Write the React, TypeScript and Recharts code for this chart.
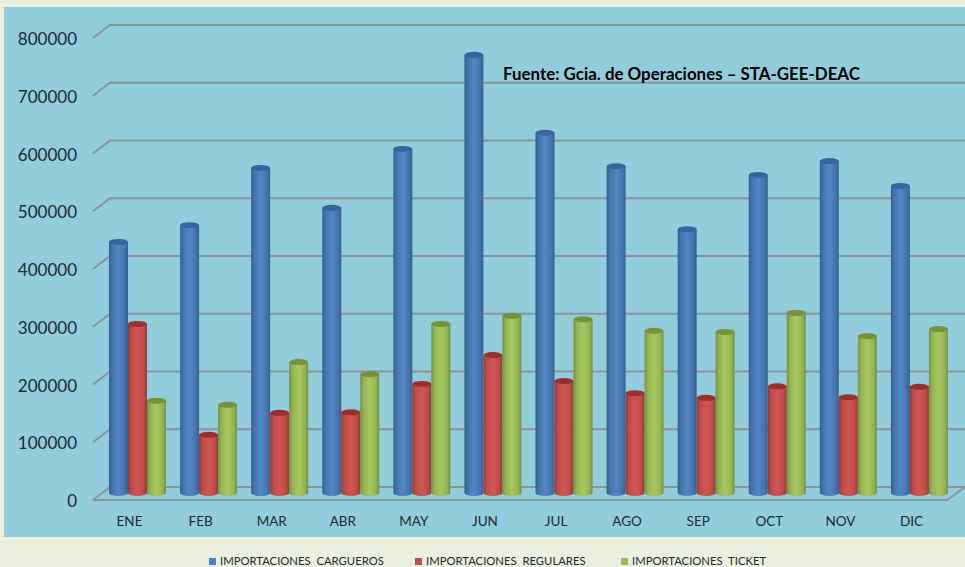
import { Bar, BarChart, CartesianGrid, Legend, XAxis, YAxis } from "recharts"

const months = ["ENE", "FEB", "MAR", "ABR", "MAY", "JUN", "JUL", "AGO", "SEP", "OCT", "NOV", "DIC"]
const cargueros = [440000, 469000, 568000, 499000, 601000, 764000, 629000, 571000, 462000, 556000, 580000, 537000]
const regulares = [298000, 106000, 144000, 145000, 194000, 244000, 199000, 178000, 170000, 190000, 171000, 189000]
const ticket = [165000, 158000, 232000, 211000, 298000, 312000, 306000, 286000, 284000, 317000, 277000, 289000]
const yTicks = [0, 100000, 200000, 300000, 400000, 500000, 600000, 700000, 800000]

const data = months.map((month, i) => ({
  month,
  cargueros: cargueros[i],
  regulares: regulares[i],
  ticket: ticket[i],
}))

const FONT = "Lato, sans-serif"
const GRID = "#8c9499"

// bars stand on a floor between the front edge (y + 4) and the back wall (y - 9)
function GridLine({ y1, index }: any) {
  const isFloor = index === 0 || y1 > 490
  return (
    <g fill="none" stroke={GRID} strokeWidth={2}>
      <polyline points={`93,${y1 + 4} 110,${y1 - 9} 965,${y1 - 9}`} />
      {isFloor && <polyline points={`93,${y1 + 4} 947,${y1 + 4} 965,${y1 - 9}`} />}
    </g>
  )
}

function YTick({ y, payload }: any) {
  return (
    <text x={77} y={y + 11} textAnchor="end" fontFamily={FONT} fontSize={17} fill="#1d2a30">
      {payload.value}
    </text>
  )
}

function XTick({ x, y, payload }: any) {
  return (
    <text x={x - 8} y={y + 22} textAnchor="middle" fontFamily={FONT} fontSize={13.5} fill="#1d2a30">
      {payload.value}
    </text>
  )
}

function Cylinder({ x, y, width, height, fill, lid }: any) {
  const rx = width / 2
  const base = y + height - 3
  const body = `M${x},${y} L${x},${base} A${rx},3 0 0 0 ${x + width},${base} L${x + width},${y} Z`
  return (
    <g>
      <path d={body} fill={fill} />
      <ellipse cx={x + rx} cy={y} rx={rx} ry={3} fill={lid} />
    </g>
  )
}

function Shade({ id, edge, mid, light }: { id: string; edge: string; mid: string; light: string }) {
  return (
    <linearGradient id={id} x1="0" y1="0" x2="1" y2="0">
      <stop offset="0%" stopColor={edge} />
      <stop offset="18%" stopColor={mid} />
      <stop offset="50%" stopColor={light} />
      <stop offset="82%" stopColor={mid} />
      <stop offset="100%" stopColor={edge} />
    </linearGradient>
  )
}

const legendColors: Record<string, string> = {
  cargueros: "#4F81BD",
  regulares: "#C0504D",
  ticket: "#9BBB59",
}
const legendLeft: Record<string, number> = { cargueros: 209, regulares: 415, ticket: 621 }

function LegendRow({ payload }: any) {
  return (
    <div style={{ position: "relative", height: 41 }}>
      {(payload ?? []).map((item: any) => (
        <div
          key={item.dataKey}
          style={{
            position: "absolute",
            left: legendLeft[item.dataKey],
            top: 28,
            display: "flex",
            alignItems: "center",
            fontFamily: FONT,
            fontSize: 11.3,
            color: "#1d2a30",
            whiteSpace: "pre",
            lineHeight: "14px",
          }}
        >
          <span style={{ width: 7, height: 7, marginRight: 4, background: legendColors[item.dataKey] }} />
          {item.value}
        </div>
      ))}
    </div>
  )
}

export default function App() {
  return (
    <div style={{ position: "absolute", left: 0, top: 0, width: 965, height: 567, background: "#EBEFDF", overflow: "hidden" }}>
      <div style={{ position: "absolute", left: 4, top: 7, width: 961, height: 530, background: "#92CDDC" }} />
      <div style={{ position: "absolute", left: 0, top: 0 }}>
        <BarChart
          width={965}
          height={567}
          data={data}
          margin={{ top: 34, right: 10, bottom: 0, left: 0 }}
          barSize={19}
          barGap={0}
        >
          <defs>
            <Shade id="blueCyl" edge="#35608f" mid="#4674ad" light="#5386c6" />
            <Shade id="redCyl" edge="#8f3b39" mid="#bd4c49" light="#d05653" />
            <Shade id="greenCyl" edge="#74903f" mid="#95b453" light="#a6c85f" />
          </defs>
          <CartesianGrid vertical={false} horizontal={(props: any) => <GridLine key={props.key} {...props} />} />
          <XAxis dataKey="month" height={30} axisLine={false} tickLine={false} interval={0} tick={<XTick />} />
          <YAxis width={102} domain={[0, 800000]} ticks={yTicks} axisLine={false} tickLine={false} tick={<YTick />} />
          <Legend height={41} verticalAlign="bottom" content={<LegendRow />} />
          <Bar
            dataKey="cargueros"
            name="IMPORTACIONES  CARGUEROS"
            fill="url(#blueCyl)"
            isAnimationActive={false}
            shape={(p: any) => <Cylinder {...p} lid="#3a659c" />}
          />
          <Bar
            dataKey="regulares"
            name="IMPORTACIONES  REGULARES"
            fill="url(#redCyl)"
            isAnimationActive={false}
            shape={(p: any) => <Cylinder {...p} lid="#97312f" />}
          />
          <Bar
            dataKey="ticket"
            name="IMPORTACIONES  TICKET"
            fill="url(#greenCyl)"
            isAnimationActive={false}
            shape={(p: any) => <Cylinder {...p} lid="#76923c" />}
          />
        </BarChart>
      </div>
      <div
        style={{
          position: "absolute",
          left: 503,
          top: 63,
          fontFamily: FONT,
          fontWeight: 700,
          fontSize: 16.9,
          color: "#000",
          whiteSpace: "pre",
        }}
      >
        Fuente: Gcia. de Operaciones – STA-GEE-DEAC
      </div>
    </div>
  )
}
